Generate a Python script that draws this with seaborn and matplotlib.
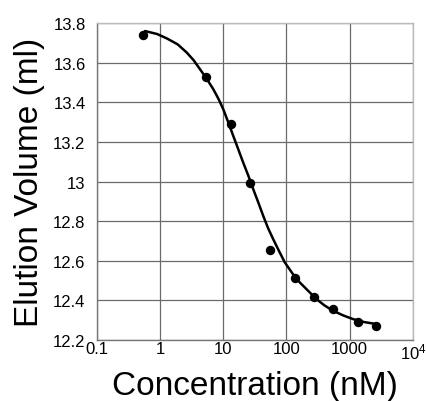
import numpy as np
import pandas as pd
import seaborn as sns
import matplotlib
matplotlib.use("Agg")
import matplotlib.pyplot as plt
from matplotlib.ticker import FixedLocator, NullLocator

# measured elution volumes
conc_nM = [0.53, 5.4, 13.4, 26.7, 54, 136, 271, 541, 1343, 2650]
elution_ml = [13.741, 13.529, 13.288, 12.993, 12.652, 12.512, 12.418, 12.356, 12.288, 12.268]

# fitted curve
fit_conc = [0.58, 0.9, 1.28, 1.9, 2.64, 3.4, 4.28, 5.5, 6.95, 8.4, 10, 12, 14.4, 17.3,
            20.7, 25, 29.8, 36, 42.9, 51, 61.7, 76, 94.4, 125, 163, 225, 299, 400,
            547, 800, 1132, 1700, 2650]
fit_vol = [13.760, 13.745, 13.723, 13.693, 13.652, 13.613, 13.568, 13.518, 13.467, 13.418,
           13.366, 13.300, 13.231, 13.163, 13.096, 13.029, 12.962, 12.893, 12.827, 12.766,
           12.709, 12.650, 12.591, 12.535, 12.490, 12.445, 12.406, 12.374, 12.347, 12.323,
           12.305, 12.290, 12.280]

xticks = [0.1, 1, 10, 100, 1000, 10000]
xticklabels = ["0.1", "1", "10", "100", "1000", r"$\mathregular{10^4}$"]
yticks = [12.2, 12.4, 12.6, 12.8, 13.0, 13.2, 13.4, 13.6, 13.8]
yticklabels = ["12.2", "12.4", "12.6", "12.8", "13", "13.2", "13.4", "13.6", "13.8"]

sns.set_style("white")
plt.rcParams["font.family"] = ["Liberation Sans", "DejaVu Sans"]
plt.rcParams["mathtext.fontset"] = "custom"
plt.rcParams["mathtext.rm"] = "Liberation Sans"
plt.rcParams["axes.labelcolor"] = "black"
plt.rcParams["text.color"] = "black"

pts = pd.DataFrame({"conc": conc_nM, "vol": elution_ml})
fit = pd.DataFrame({"conc": fit_conc, "vol": fit_vol})

fig = plt.figure(figsize=(4.27, 4.02), dpi=100)
ax = fig.add_axes([0.2265, 0.152, 0.7405, 0.788])

ax.set_xscale("log")
sns.lineplot(data=fit, x="conc", y="vol", color="black", linewidth=1.8, ax=ax,
             sort=False, zorder=3)
sns.scatterplot(data=pts, x="conc", y="vol", color="black", s=46, edgecolor="black",
                linewidth=0, ax=ax, zorder=4)

ax.set_xlim(0.1, 10000)
ax.set_ylim(12.2, 13.8)
ax.xaxis.set_major_locator(FixedLocator(xticks))
ax.xaxis.set_minor_locator(NullLocator())
ax.set_xticklabels(xticklabels)
ax.set_yticks(yticks)
ax.set_yticklabels(yticklabels)
ax.tick_params(axis="both", length=0, labelsize=12, colors="black")
ax.tick_params(axis="y", pad=8)
ax.tick_params(axis="x", pad=1)

ax.grid(True, which="major", color="#6a6a6a", linewidth=0.9)
for side in ["left", "bottom"]:
    ax.spines[side].set_color("#777777")
    ax.spines[side].set_linewidth(1.0)
for side in ["top", "right"]:
    ax.spines[side].set_color("#bbbbbb")
    ax.spines[side].set_linewidth(1.0)

ax.set_xlabel("Concentration (nM)", fontsize=24, labelpad=6, color="black")
ax.set_ylabel("Elution Volume (ml)", fontsize=24, labelpad=6, color="black")

fig.savefig("out.png", dpi=100)
